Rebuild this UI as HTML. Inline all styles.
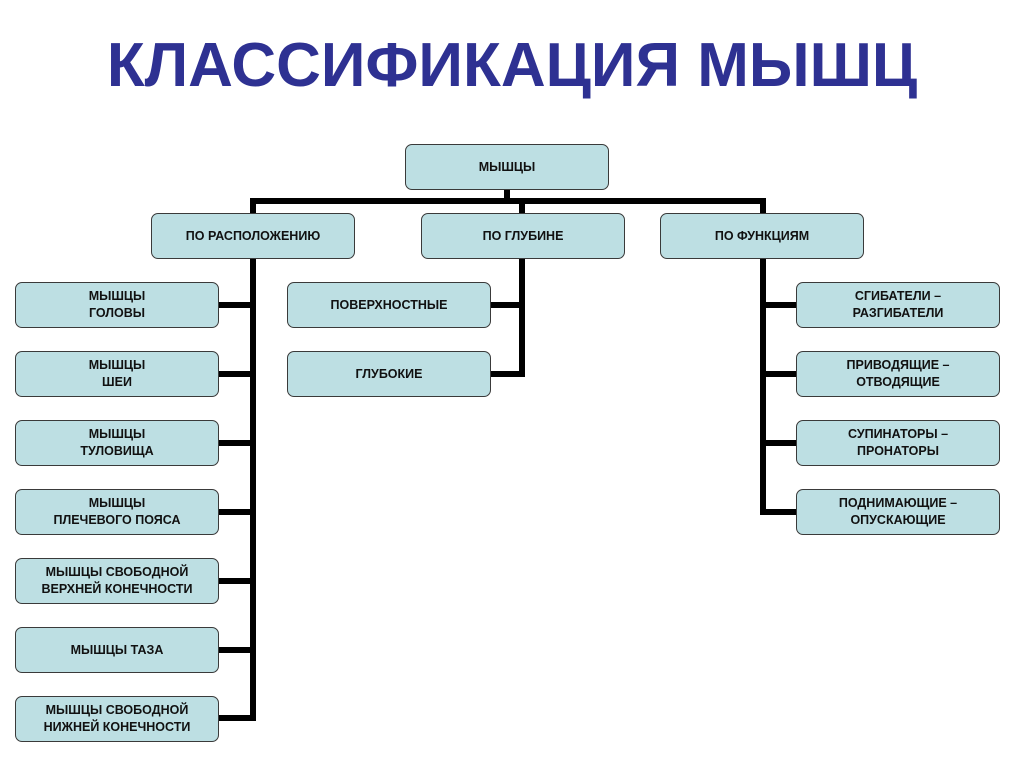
<!DOCTYPE html>
<html><head><meta charset="utf-8"><style>
body{margin:0;width:1024px;height:767px;background:#fff;position:relative;overflow:hidden;font-family:"Liberation Sans",Arial,sans-serif}
.t{position:absolute;left:0;width:1024px;top:30px;text-align:center;font-size:62px;font-weight:bold;color:#2e3192;letter-spacing:0px}
.b{position:absolute;width:202px;height:44px;background:#bddfe3;border:1.5px solid #3a3a3a;border-radius:7px;display:flex;align-items:center;justify-content:center;text-align:center;font-size:12.5px;font-weight:bold;line-height:17px;color:#111}
.l{position:absolute;background:#000}
</style></head><body>
<div class="t">КЛАССИФИКАЦИЯ МЫШЦ</div>
<div class="l" style="left:504px;top:189px;width:6px;height:14px"></div>
<div class="l" style="left:250px;top:198px;width:516px;height:6px"></div>
<div class="l" style="left:250px;top:198px;width:6px;height:16px"></div>
<div class="l" style="left:519px;top:198px;width:6px;height:16px"></div>
<div class="l" style="left:760px;top:198px;width:6px;height:16px"></div>
<div class="l" style="left:250px;top:258px;width:6px;height:463px"></div>
<div class="l" style="left:519px;top:258px;width:6px;height:119px"></div>
<div class="l" style="left:760px;top:258px;width:6px;height:257px"></div>
<div class="l" style="left:218px;top:302px;width:36px;height:6px"></div>
<div class="l" style="left:218px;top:371px;width:36px;height:6px"></div>
<div class="l" style="left:218px;top:440px;width:36px;height:6px"></div>
<div class="l" style="left:218px;top:509px;width:36px;height:6px"></div>
<div class="l" style="left:218px;top:578px;width:36px;height:6px"></div>
<div class="l" style="left:218px;top:647px;width:36px;height:6px"></div>
<div class="l" style="left:218px;top:715px;width:36px;height:6px"></div>
<div class="l" style="left:490px;top:302px;width:34px;height:6px"></div>
<div class="l" style="left:490px;top:371px;width:34px;height:6px"></div>
<div class="l" style="left:762px;top:302px;width:36px;height:6px"></div>
<div class="l" style="left:762px;top:371px;width:36px;height:6px"></div>
<div class="l" style="left:762px;top:440px;width:36px;height:6px"></div>
<div class="l" style="left:762px;top:509px;width:36px;height:6px"></div>
<div class="b" style="left:405px;top:144px">МЫШЦЫ</div>
<div class="b" style="left:151px;top:213px">ПО РАСПОЛОЖЕНИЮ</div>
<div class="b" style="left:421px;top:213px">ПО ГЛУБИНЕ</div>
<div class="b" style="left:660px;top:213px">ПО ФУНКЦИЯМ</div>
<div class="b" style="left:15px;top:282px">МЫШЦЫ<br>ГОЛОВЫ</div>
<div class="b" style="left:15px;top:351px">МЫШЦЫ<br>ШЕИ</div>
<div class="b" style="left:15px;top:420px">МЫШЦЫ<br>ТУЛОВИЩА</div>
<div class="b" style="left:15px;top:489px">МЫШЦЫ<br>ПЛЕЧЕВОГО ПОЯСА</div>
<div class="b" style="left:15px;top:558px">МЫШЦЫ СВОБОДНОЙ<br>ВЕРХНЕЙ КОНЕЧНОСТИ</div>
<div class="b" style="left:15px;top:627px">МЫШЦЫ ТАЗА</div>
<div class="b" style="left:15px;top:696px">МЫШЦЫ СВОБОДНОЙ<br>НИЖНЕЙ КОНЕЧНОСТИ</div>
<div class="b" style="left:287px;top:282px">ПОВЕРХНОСТНЫЕ</div>
<div class="b" style="left:287px;top:351px">ГЛУБОКИЕ</div>
<div class="b" style="left:796px;top:282px">СГИБАТЕЛИ –<br>РАЗГИБАТЕЛИ</div>
<div class="b" style="left:796px;top:351px">ПРИВОДЯЩИЕ –<br>ОТВОДЯЩИЕ</div>
<div class="b" style="left:796px;top:420px">СУПИНАТОРЫ –<br>ПРОНАТОРЫ</div>
<div class="b" style="left:796px;top:489px">ПОДНИМАЮЩИЕ –<br>ОПУСКАЮЩИЕ</div>
</body></html>
